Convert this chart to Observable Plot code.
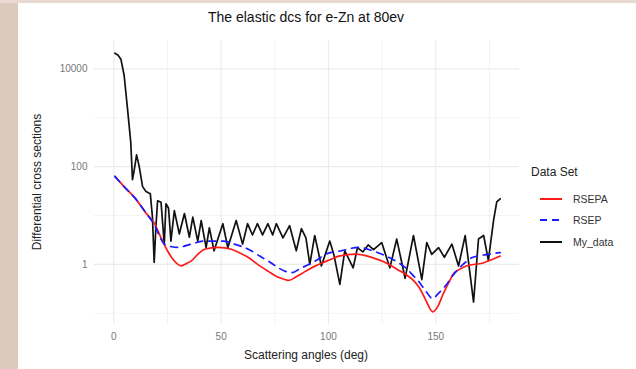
<!DOCTYPE html>
<html><head><meta charset="utf-8">
<script src="https://cdn.jsdelivr.net/npm/d3@7"></script>
<script src="https://cdn.jsdelivr.net/npm/@observablehq/plot@0.6"></script>
<style>
html,body{margin:0;padding:0;background:#fff;}
#wrap{position:relative;width:636px;height:369px;overflow:hidden;background:#fff;font-family:"Liberation Sans",Arial,sans-serif;}
#lstrip{position:absolute;left:0;top:0;width:18px;height:369px;background:#dccabd;}
#tstrip{position:absolute;left:0;top:0;width:636px;height:3px;background:#e8dad1;}
#chart{position:absolute;left:0;top:0;}
.t{position:absolute;white-space:nowrap;}
#title{left:306px;top:9px;transform:translateX(-50%);font-size:14px;color:#111;}
#xtitle{left:306px;top:348px;transform:translateX(-50%);font-size:12px;color:#222;}
#ytitle{left:37px;top:182px;transform:translate(-50%,-50%) rotate(-90deg);font-size:12px;color:#222;}
#legend{position:absolute;left:531px;top:165px;}
#legend .lt{font-size:12px;color:#222;margin-bottom:9px;}
#legend .row{display:flex;align-items:center;height:21.5px;}
#legend .row svg{margin-left:8px;}
#legend .row span{font-size:10.5px;color:#333;margin-left:10px;}
</style>
</head><body>
<div id="wrap">
  <div id="lstrip"></div>
  <div id="tstrip"></div>
  <div id="chart"></div>
  <div class="t" id="title">The elastic dcs for e-Zn at 80ev</div>
  <div class="t" id="xtitle">Scattering angles (deg)</div>
  <div class="t" id="ytitle">Differential cross sections</div>
  <div id="legend"></div>
</div>
<script>
// ---- data ----
const seriesNames = ["RSEPA", "RSEP", "My_data"];
const seriesColors = ["#ff1a1a", "#1a1aff", "#111111"];

const rsepaAngle = [0.5,5,10,15,19,22,25,28,31.4,34,36,39,42.3,48.6,54.8,58,62.7,67,72,76,79.8,81.4,85,89.2,93,97,101,104.8,112.7,120.5,128.3,132,136.1,140,142.4,145,148.6,151,153.3,156,158,161,164.2,172,180];
const rsepaValue = [63,38,22.4,11.2,6.8,3.5,1.9,1.2,0.93,1.05,1.17,1.58,2.04,2.24,2.04,1.78,1.38,1.0,0.72,0.56,0.49,0.47,0.56,0.72,0.89,1.07,1.26,1.48,1.62,1.38,1.0,0.79,0.62,0.45,0.33,0.2,0.107,0.14,0.24,0.42,0.62,0.79,0.93,1.07,1.48];

const rsepAngle = [0.5,5,10,15,19,21,23.6,27,30,36,42,51,56,60,64,68,72,76,80,83,87,90.8,95,98.6,106,114.2,120.5,128.3,132,136,140,142,145,148.6,151,155,158,161,164,167,175,180];
const rsepValue = [63,38,22.4,11.2,6.3,4.0,2.6,2.3,2.24,2.6,3.0,3.0,2.6,2.3,1.9,1.48,1.17,0.89,0.72,0.68,0.83,1.0,1.26,1.62,1.9,2.24,1.9,1.38,1.12,0.85,0.56,0.45,0.3,0.2,0.25,0.39,0.6,0.85,1.12,1.38,1.62,1.74];

const myAngle = [0.5,2,3.3,4.8,6.4,7.9,8.7,9.5,10.6,11.8,13.4,15,17,18,18.8,19.6,20.4,22,23.5,24.3,25.5,26.6,28.2,30.5,32.9,35.2,36.8,39.1,40.7,43,44.5,46.7,50.8,53.1,57,60,62.3,64.6,66.9,69.3,71.8,74,75.7,78.8,81.9,85,87.4,89.5,91.3,93.6,96.7,100.6,102.5,105.3,107.6,111.5,113.5,116,118.5,121,124.8,128.6,131.8,135.7,139.6,143.5,145.8,148.1,151.3,154,157.5,160.6,163.7,167.6,169.9,172.3,174.5,176.9,178.4,180];
const myValue = [20900,19000,15800,7400,1500,309,54,85,174,102,39,31,28,9.3,1.1,5.8,20,18.6,2.6,17.4,14.1,3.0,12.6,4.2,11,3.6,9.3,3.0,7.9,2.2,5.6,1.9,6.8,2.2,7.9,2.6,6.8,4.0,6.8,4.0,6.8,4.0,6.8,3.5,6.2,1.9,5.4,3.5,1.0,3.9,0.93,3.0,1.6,0.39,1.9,0.85,2.2,1.8,2.5,2.0,2.8,0.85,3.3,0.52,3.9,0.49,2.8,1.6,2.2,1.4,2.6,0.93,3.9,0.17,3.3,3.9,1.2,7.9,19,22];

const xTicks = [0, 50, 100, 150];
const xMinor = [25, 75, 125, 175];
const yTicks = [1, 100, 10000];
const yMinor = [0.1, 10, 1000];

// ---- build ----
const toRows = (ang, val, name) => ang.map((a, i) => ({angle: a, value: val[i], series: name}));
const rsepaRows = toRows(rsepaAngle, rsepaValue, seriesNames[0]);
const rsepRows = toRows(rsepAngle, rsepValue, seriesNames[1]);
const myRows = toRows(myAngle, myValue, seriesNames[2]);

const grid = "#ebebeb";
const chart = Plot.plot({
  width: 636,
  height: 369,
  marginLeft: 94,
  marginRight: 117,
  marginTop: 40,
  marginBottom: 45,
  style: {background: "transparent", fontFamily: '"Liberation Sans", Arial, sans-serif', fontSize: "10px", color: "#777"},
  x: {domain: [-9, 189]},
  y: {type: "log", domain: [0.059, 38000]},
  marks: [
    Plot.ruleY(yMinor, {stroke: grid, strokeWidth: 0.6}),
    Plot.ruleX(xMinor, {stroke: grid, strokeWidth: 0.6}),
    Plot.ruleY(yTicks, {stroke: grid, strokeWidth: 1.2}),
    Plot.ruleX(xTicks, {stroke: grid, strokeWidth: 1.2}),
    Plot.line(myRows, {x: "angle", y: "value", stroke: seriesColors[2], strokeWidth: 1.7}),
    Plot.line(rsepaRows, {x: "angle", y: "value", stroke: seriesColors[0], strokeWidth: 1.7, curve: "monotone-x"}),
    Plot.line(rsepRows, {x: "angle", y: "value", stroke: seriesColors[1], strokeWidth: 1.7, strokeDasharray: "7,6", curve: "monotone-x"}),
    Plot.axisY({ticks: yTicks, tickSize: 0, tickPadding: 7, tickFormat: d => String(d), label: null}),
    Plot.axisX({ticks: xTicks, tickSize: 0, tickPadding: 8, tickFormat: d => String(d), label: null})
  ]
});
document.getElementById("chart").appendChild(chart);

// legend
const lg = document.getElementById("legend");
let html = '<div class="lt">Data Set</div>';
seriesNames.forEach((n, i) => {
  const dash = i === 1 ? ' stroke-dasharray="7,5"' : '';
  html += `<div class="row"><svg width="24" height="10"><line x1="1" y1="5" x2="23" y2="5" stroke="${seriesColors[i]}" stroke-width="2"${dash}/></svg><span>${n}</span></div>`;
});
lg.innerHTML = html;
</script>
</body></html>
